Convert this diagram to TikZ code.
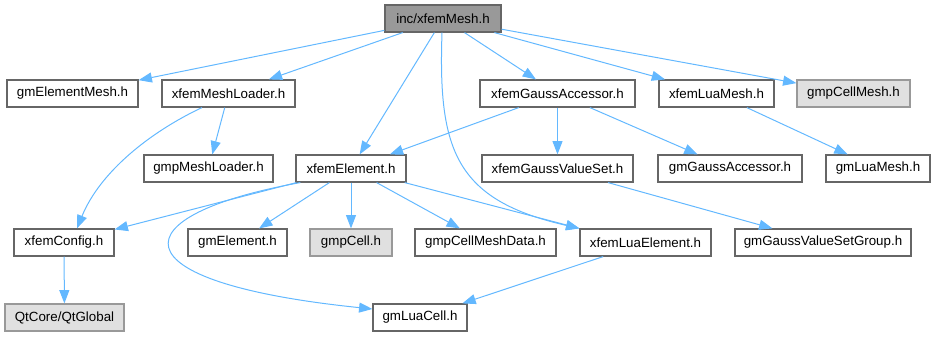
\documentclass[tikz,border=0pt]{standalone}
\usepackage{fontspec}
\setmainfont{Liberation Sans}
\usetikzlibrary{arrows.meta}
\definecolor{edgec}{HTML}{63B8FF}
\definecolor{bordc}{HTML}{666666}
\definecolor{rootf}{HTML}{999999}
\definecolor{extf}{HTML}{E0E0E0}
\definecolor{extb}{HTML}{999999}
\tikzset{
  box/.style={draw=bordc, fill=white, line width=0.9pt, minimum height=20.25pt, inner sep=0pt, font=\fontsize{10pt}{12pt}\selectfont},
  rootbox/.style={box, fill=rootf},
  extbox/.style={box, draw=extb, fill=extf},
  edge/.style={draw=edgec, line width=0.75pt, -{Triangle[length=10pt,width=7.5pt]}},
}
\begin{document}
\begin{tikzpicture}[x=0.75pt,y=-0.75pt]
\useasboundingbox (0,0) rectangle (935,336);
% row 0
\node[rootbox, minimum width=87pt] (root) at (443,18.5) {inc/xfemMesh.h};
% row 1
\node[box, minimum width=98.25pt] (gmElementMesh) at (72.5,93.5) {gmElementMesh.h};
\node[box, minimum width=99.75pt] (xfemMeshLoader) at (228.5,93.5) {xfemMeshLoader.h};
\node[box, minimum width=116.25pt] (xfemGaussAccessor) at (557.5,93.5) {xfemGaussAccessor.h};
\node[box, minimum width=86.25pt] (xfemLuaMesh) at (716.5,93.5) {xfemLuaMesh.h};
\node[extbox, minimum width=84.75pt] (gmpCellMesh) at (853.5,93.5) {gmpCellMesh.h};
% row 2
\node[box, minimum width=96.75pt] (gmpMeshLoader) at (208.5,168.5) {gmpMeshLoader.h};
\node[box, minimum width=82.5pt] (xfemElement) at (351,168.5) {xfemElement.h};
\node[box, minimum width=113.25pt] (xfemGaussValueSet) at (557.5,168.5) {xfemGaussValueSet.h};
\node[box, minimum width=108pt] (gmGaussAccessor) at (730,168.5) {gmGaussAccessor.h};
\node[box, minimum width=78pt] (gmLuaMesh) at (878,168.5) {gmLuaMesh.h};
% row 3
\node[box, minimum width=75pt] (xfemConfig) at (64,242.5) {xfemConfig.h};
\node[box, minimum width=74.25pt] (gmElement) at (237.5,242.5) {gmElement.h};
\node[extbox, minimum width=61.5pt] (gmpCell) at (351,242.5) {gmpCell.h};
\node[box, minimum width=105.75pt] (gmpCellMeshData) at (485.5,242.5) {gmpCellMeshData.h};
\node[box, minimum width=98.25pt] (xfemLuaElement) at (645.5,242.5) {xfemLuaElement.h};
\node[box, minimum width=132pt] (gmGaussValueSetGroup) at (823,242.5) {gmGaussValueSetGroup.h};
% row 4
\node[extbox, minimum width=89.25pt] (QtGlobal) at (64.5,317.5) {QtCore/QtGlobal};
\node[box, minimum width=70.5pt] (gmLuaCell) at (420,317.5) {gmLuaCell.h};
% edges
\draw[edge] (root) -- (gmElementMesh);
\draw[edge] (root) -- (xfemMeshLoader);
\draw[edge] (root) -- (xfemElement);
\draw[edge] ([xshift=-0.75pt]root.south) .. controls (438,150) and (455,200) .. (xfemLuaElement.north west);
\draw[edge] (root) -- (xfemGaussAccessor);
\draw[edge] (root) -- (xfemLuaMesh);
\draw[edge] (root) -- (gmpCellMesh);
\draw[edge] (xfemMeshLoader) -- (gmpMeshLoader);
\draw[edge] ([xshift=-19.9pt]xfemMeshLoader.south) .. controls (150,132) and (100,172) .. ([xshift=9.75pt]xfemConfig.north);
\draw[edge] (xfemGaussAccessor) -- (xfemElement);
\draw[edge] (xfemGaussAccessor) -- (xfemGaussValueSet);
\draw[edge] (xfemGaussAccessor) -- (gmGaussAccessor);
\draw[edge] (xfemLuaMesh) -- (gmLuaMesh);
\draw[edge] (xfemElement) -- (xfemConfig);
\draw[edge] (xfemElement) -- (gmElement);
\draw[edge] (xfemElement) -- (gmpCell);
\draw[edge] (xfemElement) -- (gmpCellMeshData);
\draw[edge] (xfemElement) -- (xfemLuaElement.north west);
\draw[edge] ([xshift=-38pt]xfemElement.south) .. controls (120,215) and (110,282) .. ([yshift=6.4pt]gmLuaCell.west);
\draw[edge] (xfemGaussValueSet) -- (gmGaussValueSetGroup);
\draw[edge] (xfemConfig) -- (QtGlobal);
\draw[edge] (xfemLuaElement) -- (gmLuaCell);
\end{tikzpicture}
\end{document}
